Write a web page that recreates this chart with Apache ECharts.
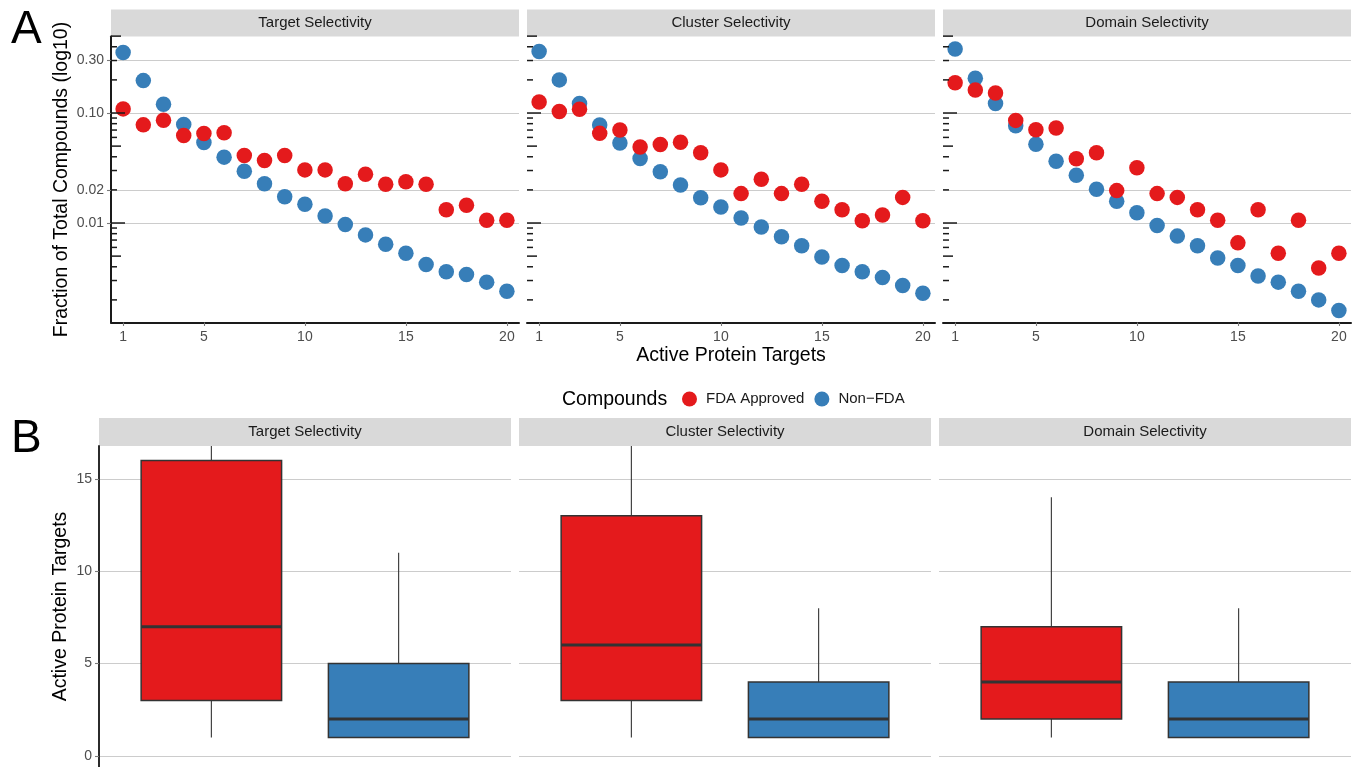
<!DOCTYPE html>
<html><head><meta charset="utf-8">
<script src="https://cdn.jsdelivr.net/npm/echarts@6/dist/echarts.min.js"></script>
<style>html,body{margin:0;padding:0;background:#fff}#c{width:1361px;height:767px}</style>
</head><body><div id="c"></div>
<script>
// ---------- data ----------
const panels = ['Target Selectivity', 'Cluster Selectivity', 'Domain Selectivity'];
const groups = ['FDA Approved', 'Non\u2212FDA'];
const targets = [1,2,3,4,5,6,7,8,9,10,11,12,13,14,15,16,17,18,19,20];

// Fraction of total compounds (panel A)
const fdaTarget  = [0.109,0.078,0.086,0.0625,0.065,0.066,0.041,0.037,0.041,0.0304,0.0304,0.0227,0.0278,0.0225,0.0237,0.0225,0.0132,0.0145,0.0106,0.0106];
const nonTarget  = [0.355,0.197,0.120,0.0788,0.054,0.0397,0.0296,0.0227,0.0173,0.0148,0.0116,0.0097,0.0078,0.0064,0.0053,0.0042,0.0036,0.0034,0.0029,0.0024];
const fdaCluster = [0.126,0.103,0.108,0.0653,0.070,0.049,0.0518,0.0541,0.0435,0.0304,0.0185,0.025,0.0185,0.0225,0.0158,0.0132,0.0105,0.0118,0.0171,0.0105];
const nonCluster = [0.362,0.200,0.122,0.0778,0.0533,0.0386,0.0292,0.0222,0.0170,0.0140,0.0111,0.0092,0.0075,0.0062,0.0049,0.0041,0.0036,0.0032,0.0027,0.0023];
const fdaDomain  = [0.188,0.162,0.152,0.0857,0.0705,0.073,0.0383,0.0435,0.0197,0.0318,0.0185,0.0171,0.0132,0.0106,0.0066,0.0132,0.0053,0.0106,0.0039,0.0053];
const nonDomain  = [0.381,0.207,0.122,0.0766,0.0521,0.0365,0.0272,0.0203,0.0158,0.0124,0.0095,0.0076,0.0062,0.0048,0.0041,0.0033,0.0029,0.0024,0.0020,0.0016];

// Box statistics (panel B): [lower whisker, Q1, median, Q3, upper whisker]
const boxTarget  = [[1,3,7,16,20],[1,1,2,5,11]];
const boxCluster = [[1,3,6,13,20],[1,1,2,4,8]];
const boxDomain  = [[1,2,4,7,14],[1,1,2,4,8]];

// tick values
const xTickValues   = [1,5,10,15,20];
const yTickValues   = [0.01,0.02,0.1,0.3];
const logTickValues = [0.002,0.003,0.004,0.005,0.006,0.007,0.008,0.009,0.01,0.02,0.03,0.04,0.05,0.06,0.07,0.08,0.09,0.1,0.2,0.3,0.4,0.5];
const boxTickValues = [0,5,10,15];

// ---------- styling / layout ----------
const RED = '#E41A1C', BLUE = '#377EB8';
const FONT = 'Liberation Sans, Arial, Helvetica, sans-serif';
const TICK = '#7a7a7a';
const xExtent = [0.4, 20.6];
const yExtent = [0.001246, 0.496];
const boxXExtent = [0.4, 2.6];
const boxYExtent = [-0.6, 16.78];

const topGrids = [111, 527, 943].map(l => ({left:l, top:36.5, width:408, height:286}));
const botGrids = [99, 519, 939].map(l => ({left:l, top:446, width:412, height:321}));
const grids = topGrids.concat(botGrids).map(g => Object.assign({outerBoundsMode:'none', containLabel:false, show:false}, g));

const fdaA = [fdaTarget, fdaCluster, fdaDomain];
const nonA = [nonTarget, nonCluster, nonDomain];
const boxes = [boxTarget, boxCluster, boxDomain];

const xTop = [], yTop = [], xBot = [], yBot = [], series = [], graphics = [];

panels.forEach((p, i) => {
  xTop.push({
    gridIndex: i, type: 'value', min: xExtent[0], max: xExtent[1],
    axisLine: {show: true, onZero: false, lineStyle: {color: '#1a1a1a', width: 2}},
    axisTick: {show: true, customValues: xTickValues, length: 3.5, lineStyle: {color: TICK, width: 1.1}},
    axisLabel: {customValues: xTickValues, color: '#4d4d4d', fontSize: 14, margin: 8, fontFamily: FONT},
    splitLine: {show: false},
    name: i === 1 ? 'Active Protein Targets' : '', nameLocation: 'middle', nameGap: 23, nameMoveOverlap: false,
    nameTextStyle: {fontSize: 19.5, color: '#000', fontFamily: FONT}
  });
  yTop.push({
    gridIndex: i, type: 'log', logBase: 10, min: yExtent[0], max: yExtent[1],
    axisLine: {show: i === 0, lineStyle: {color: '#1a1a1a', width: 2}},
    axisTick: {show: i === 0, customValues: yTickValues, length: 4, lineStyle: {color: TICK, width: 1.1}},
    axisLabel: {show: i === 0, customValues: yTickValues, formatter: v => Number(v).toFixed(2),
      color: '#4d4d4d', fontSize: 14, margin: 7, fontFamily: FONT},
    splitLine: {show: true, lineStyle: {color: '#cccccc', width: 1.2}},
    minorTick: {show: false}, minorSplitLine: {show: false},
    name: i === 0 ? 'Fraction of Total Compounds (log10)' : '', nameLocation: 'middle', nameGap: 39, nameMoveOverlap: false,
    nameTextStyle: {fontSize: 19.5, color: '#000', fontFamily: FONT}
  });
  series.push({
    type: 'scatter', name: groups[1], xAxisIndex: i, yAxisIndex: i, symbolSize: 15.5,
    itemStyle: {color: BLUE, opacity: 1}, data: targets.map((x, k) => [x, nonA[i][k]]), z: 3
  });
  series.push({
    type: 'scatter', name: groups[0], xAxisIndex: i, yAxisIndex: i, symbolSize: 15.5,
    itemStyle: {color: RED, opacity: 1}, data: targets.map((x, k) => [x, fdaA[i][k]]), z: 4
  });
  // annotation log ticks along the left edge
  series.push({
    type: 'custom', xAxisIndex: i, yAxisIndex: i, silent: true, z: 5,
    data: logTickValues.map(v => [xExtent[0], v]), encode: {x: 0, y: 1},
    renderItem: (params, api) => {
      const v = api.value(1);
      const y = api.coord([api.value(0), v])[1];
      const x0 = params.coordSys.x;
      const m = Math.round(v / Math.pow(10, Math.floor(Math.log10(v) + 1e-9)));
      const len = m === 1 ? 14 : (m === 5 ? 10 : 6);
      return {type: 'line', shape: {x1: x0, y1: y, x2: x0 + len, y2: y}, style: {stroke: '#1a1a1a', lineWidth: 1.5}};
    }
  });

  const j = i + 3;
  xBot.push({gridIndex: j, type: 'value', min: boxXExtent[0], max: boxXExtent[1], show: false});
  yBot.push({
    gridIndex: j, type: 'value', min: boxYExtent[0], max: boxYExtent[1],
    axisLine: {show: i === 0, lineStyle: {color: '#2b2b2b', width: 2}},
    axisTick: {show: i === 0, customValues: boxTickValues, length: 4, lineStyle: {color: TICK, width: 1.1}},
    axisLabel: {show: i === 0, customValues: boxTickValues, color: '#4d4d4d', fontSize: 14, margin: 7, fontFamily: FONT},
    splitLine: {show: true, lineStyle: {color: '#cccccc', width: 1.2}},
    name: i === 0 ? 'Active Protein Targets' : '', nameLocation: 'middle', nameGap: 28, nameMoveOverlap: false,
    nameTextStyle: {fontSize: 19.5, color: '#000', fontFamily: FONT}
  });
  series.push({
    type: 'custom', xAxisIndex: j, yAxisIndex: j, silent: true, clip: true, z: 3,
    data: boxes[i].map((s, k) => [k + 1].concat(s)), encode: {x: 0, y: [1,2,3,4,5]},
    renderItem: (params, api) => {
      const x = api.value(0);
      const lo = api.coord([x, api.value(1)]), q1 = api.coord([x, api.value(2)]),
            md = api.coord([x, api.value(3)]), q3 = api.coord([x, api.value(4)]), hi = api.coord([x, api.value(5)]);
      const w = api.size([0.75, 0])[0];
      const cx = lo[0];
      const col = params.dataIndex === 0 ? RED : BLUE;
      return {type: 'group', children: [
        {type: 'line', shape: {x1: cx, y1: q3[1], x2: cx, y2: hi[1]}, style: {stroke: '#333', lineWidth: 1.1}},
        {type: 'line', shape: {x1: cx, y1: lo[1], x2: cx, y2: q1[1]}, style: {stroke: '#333', lineWidth: 1.1}},
        {type: 'rect', shape: {x: cx - w / 2, y: q3[1], width: w, height: q1[1] - q3[1]}, style: {fill: col, stroke: '#333', lineWidth: 1.5}},
        {type: 'line', shape: {x1: cx - w / 2, y1: md[1], x2: cx + w / 2, y2: md[1]}, style: {stroke: '#333', lineWidth: 3}}
      ]};
    }
  });

  // facet strips
  [[topGrids[i], 9.5, 27], [botGrids[i], 418, 28]].forEach(([g, y, h]) => {
    graphics.push({type: 'rect', left: g.left, top: y, shape: {width: g.width, height: h}, style: {fill: '#d9d9d9'}, silent: true});
    graphics.push({type: 'text', x: g.left + g.width / 2, y: y + h / 2,
      style: {text: p, fill: '#1a1a1a', fontSize: 15, fontFamily: FONT, align: 'center', verticalAlign: 'middle'}, silent: true});
  });
});

graphics.push({type: 'text', x: 11, y: 30, style: {text: 'A', fill: '#000', fontSize: 46, fontFamily: FONT, align: 'left', verticalAlign: 'middle'}});
graphics.push({type: 'text', x: 11, y: 439, style: {text: 'B', fill: '#000', fontSize: 46, fontFamily: FONT, align: 'left', verticalAlign: 'middle'}});
graphics.push({type: 'text', x: 562, y: 400, style: {text: 'Compounds', fill: '#000', fontSize: 19.5, fontFamily: FONT, align: 'left', verticalAlign: 'middle'}});

const chart = echarts.init(document.getElementById('c'), null, {renderer: 'canvas'});
chart.setOption({
  animation: false,
  backgroundColor: '#ffffff',
  grid: grids,
  xAxis: xTop.concat(xBot),
  yAxis: yTop.concat(yBot),
  legend: {
    data: groups.map(n => ({name: n, icon: 'circle'})),
    left: 682, top: 391.5, padding: 0, itemWidth: 15, itemHeight: 15, itemGap: 10,
    textStyle: {fontSize: 15, color: '#1a1a1a', fontFamily: FONT, padding: [0, 0, 0, 4]},
    selectedMode: false
  },
  tooltip: {show: false},
  graphic: graphics,
  series: series
});
</script></body></html>
